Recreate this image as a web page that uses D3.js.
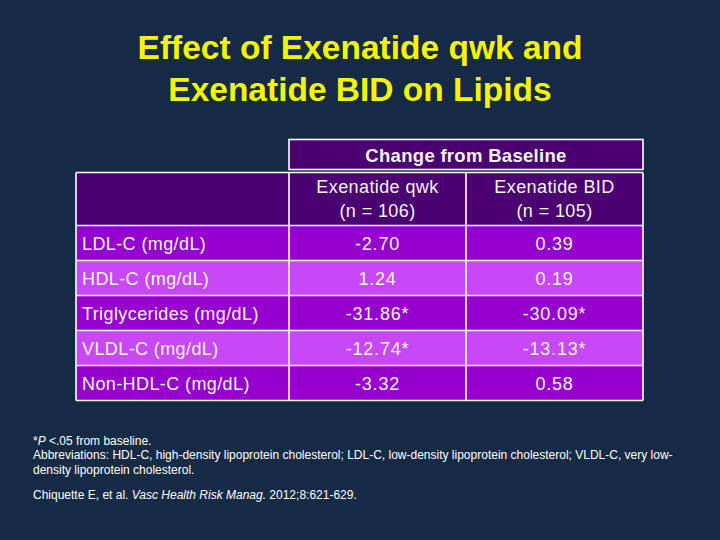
<!DOCTYPE html>
<html><head><meta charset="utf-8">
<script src="https://cdn.jsdelivr.net/npm/d3@7"></script>
<style>html,body{margin:0;padding:0;background:#152a45;}svg{display:block;}</style>
</head><body>
<script>
const titleLines = ["Effect of Exenatide qwk and", "Exenatide BID on Lipids"];
const groupHeader = "Change from Baseline";
const columns = ["Exenatide qwk", "Exenatide BID"];
const columnN = ["(n = 106)", "(n = 105)"];
const rowLabels = ["LDL-C (mg/dL)", "HDL-C (mg/dL)", "Triglycerides (mg/dL)", "VLDL-C (mg/dL)", "Non-HDL-C (mg/dL)"];
const qwkValues = ["-2.70", "1.24", "-31.86*", "-12.74*", "-3.32"];
const bidValues = ["0.39", "0.19", "-30.09*", "-13.13*", "0.58"];
const footnotes = ["*P <.05 from baseline.",
  "Abbreviations: HDL-C, high-density lipoprotein cholesterol; LDL-C, low-density lipoprotein cholesterol; VLDL-C, very low-",
  "density lipoprotein cholesterol."];

const W = 720, H = 540;
const svg = d3.select("body").append("svg").attr("width", W).attr("height", H);
svg.append("rect").attr("width", W).attr("height", H).attr("fill", "#152a45");

const font = "Arial, 'Liberation Sans', Helvetica, sans-serif";
const txt = "#f4f4f4";
const fs = 18;
const ls = 0.4;

// Title
svg.selectAll("text.title").data(titleLines).join("text")
  .attr("class", "title")
  .attr("x", 360).attr("y", (d, i) => 59 + i * 42)
  .attr("text-anchor", "middle")
  .attr("font-family", font).attr("font-weight", "bold").attr("font-size", 33.5)
  .attr("fill", "#f4f400")
  .text(d => d);

// Scales
const colKeys = ["label", "qwk", "bid"];
const colEdges = [76, 289, 466, 643];
const x = d3.scaleOrdinal().domain(colKeys).range([0, 1, 2]);
const colLeft = k => colEdges[x(k)];
const colRight = k => colEdges[x(k) + 1];
const y = d3.scaleBand().domain(d3.range(rowLabels.length)).range([225.5, 400.5]);

const stroke = "#ffffff", sw = 1.6;
const darkRow = "#9500cf", lightRow = "#c847f7", headFill = "#4a0070";

// Group header box
svg.append("rect").attr("x", 289).attr("y", 139.5).attr("width", 643 - 289).attr("height", 30)
  .attr("fill", headFill).attr("stroke", stroke).attr("stroke-width", sw);
svg.append("text").attr("x", (289 + 643) / 2).attr("y", 161.5).attr("text-anchor", "middle")
  .attr("font-family", font).attr("font-weight", "bold").attr("font-size", 18.5)
  .attr("letter-spacing", 0.3).attr("fill", txt).text(groupHeader);

// Header row
svg.append("rect").attr("x", 76).attr("y", 172.5).attr("width", 643 - 76).attr("height", 225.5 - 172.5)
  .attr("fill", headFill);

// Body rows
svg.selectAll("rect.row").data(rowLabels).join("rect").attr("class", "row")
  .attr("x", 76).attr("y", (d, i) => y(i)).attr("width", 643 - 76).attr("height", y.bandwidth())
  .attr("fill", (d, i) => i % 2 === 0 ? darkRow : lightRow);

// Grid lines
const gridY = [172.5, 225.5].concat(d3.range(rowLabels.length).map(i => y(i) + y.bandwidth()));
svg.selectAll("line.h").data(gridY).join("line").attr("class", "h")
  .attr("x1", 76).attr("x2", 643).attr("y1", d => d).attr("y2", d => d)
  .attr("stroke", stroke).attr("stroke-width", sw);
svg.selectAll("line.v").data(colEdges).join("line").attr("class", "v")
  .attr("x1", d => d).attr("x2", d => d).attr("y1", 172.5).attr("y2", 400.5)
  .attr("stroke", stroke).attr("stroke-width", sw);

// Header texts
columns.forEach((c, i) => {
  const k = colKeys[i + 1];
  const cx = (colLeft(k) + colRight(k)) / 2;
  svg.append("text").attr("x", cx).attr("y", 193).attr("text-anchor", "middle")
    .attr("font-family", font).attr("font-size", fs).attr("letter-spacing", ls).attr("fill", txt).text(c);
  svg.append("text").attr("x", cx).attr("y", 216.5).attr("text-anchor", "middle")
    .attr("font-family", font).attr("font-size", fs).attr("letter-spacing", ls).attr("fill", txt).text(columnN[i]);
});

// Row labels and values
const textY = i => y(i) + y.bandwidth() / 2 + 6.5;
svg.selectAll("text.lbl").data(rowLabels).join("text").attr("class", "lbl")
  .attr("x", 82).attr("y", (d, i) => textY(i))
  .attr("font-family", font).attr("font-size", fs).attr("letter-spacing", ls).attr("fill", txt).text(d => d);
[["qwk", qwkValues], ["bid", bidValues]].forEach(([k, vals]) => {
  const cx = (colLeft(k) + colRight(k)) / 2;
  svg.selectAll("text.v" + k).data(vals).join("text").attr("class", "v" + k)
    .attr("x", cx).attr("y", (d, i) => textY(i)).attr("text-anchor", "middle")
    .attr("font-family", font).attr("font-size", fs).attr("letter-spacing", 0.8).attr("fill", txt).text(d => d);
});

// Footnotes
const fn = svg.append("g").attr("font-family", font).attr("font-size", 12).attr("fill", "#ffffff");
footnotes.forEach((t, i) => {
  const tx = fn.append("text").attr("x", 33).attr("y", 444.5 + i * 14.5);
  if (i === 0) {
    tx.append("tspan").text("*");
    tx.append("tspan").attr("font-style", "italic").text("P");
    tx.append("tspan").text(" <.05 from baseline.");
  } else tx.text(t);
});
const ref = fn.append("text").attr("x", 33).attr("y", 498.5);
ref.append("tspan").text("Chiquette E, et al. ");
ref.append("tspan").attr("font-style", "italic").text("Vasc Health Risk Manag.");
ref.append("tspan").text(" 2012;8:621-629.");
</script>
</body></html>
